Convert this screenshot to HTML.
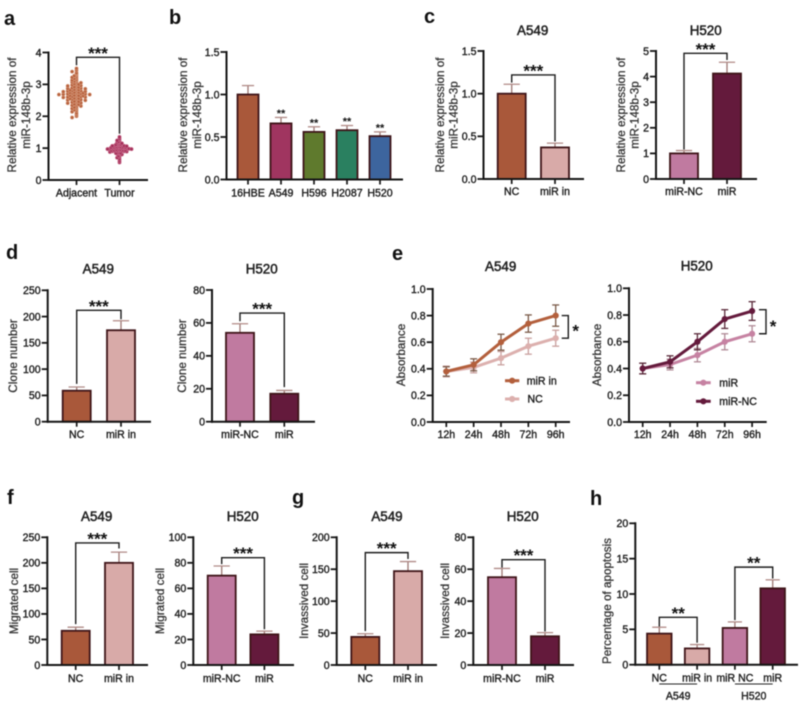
<!DOCTYPE html>
<html lang="en">
<head>
<meta charset="utf-8">
<title>miR-148b-3p figure</title>
<style>
  html, body { margin: 0; padding: 0; background: #fff; }
  #figure { display: block; width: 800px; height: 701px; filter: blur(0.4px); }
  text { font-family: "Liberation Sans", Arial, sans-serif; fill: #222; }
  .tick { font-size: 10.6px; stroke: #222; stroke-width: 0.38px; }
  .ytitle { font-size: 11.7px; fill: #333; stroke: #333; stroke-width: 0.28px; }
  .title { font-size: 13.4px; stroke: #222; stroke-width: 0.5px; }
  .letter { font-size: 20px; font-weight: bold; fill: #111; }
  .star { font-weight: bold; fill: #111; }
  .legend { font-size: 10.6px; stroke: #222; stroke-width: 0.38px; }
</style>
</head>
<body>
<svg id="figure" xmlns="http://www.w3.org/2000/svg" width="800" height="701" viewBox="0 0 800 701">
  <text class="letter" x="4" y="25">a</text>
  <text class="letter" x="169" y="24">b</text>
  <text class="letter" x="424" y="23">c</text>
  <text class="letter" x="6" y="259">d</text>
  <text class="letter" x="392" y="260">e</text>
  <text class="letter" x="7" y="504">f</text>
  <text class="letter" x="292" y="504">g</text>
  <text class="letter" x="590" y="505">h</text>
</svg>
<script>
// ---------- Panel a ----------
const aCategories = ['Adjacent', 'Tumor'];
const aTicks = ['0', '1', '2', '3', '4'];
const aAdjacent = [3.50,3.44,3.40,3.36,3.33,3.30,3.27,3.25,3.22,3.20,3.18,3.15,3.13,3.12,3.10,3.08,3.07,3.05,3.03,3.02,3.00,2.99,2.98,2.96,2.95,2.94,2.92,2.91,2.90,2.89,2.88,2.87,2.86,2.85,2.84,2.83,2.82,2.81,2.80,2.80,2.79,2.78,2.77,2.76,2.75,2.75,2.74,2.73,2.72,2.72,2.71,2.70,2.70,2.69,2.68,2.68,2.67,2.66,2.65,2.65,2.64,2.63,2.62,2.61,2.60,2.60,2.59,2.58,2.57,2.56,2.55,2.54,2.53,2.52,2.51,2.50,2.49,2.47,2.46,2.45,2.44,2.42,2.41,2.40,2.38,2.37,2.35,2.34,2.32,2.30,2.28,2.26,2.24,2.22,2.20,2.17,2.14,2.10,2.05,2.00,1.96];
const aTumor = [1.35,1.30,1.27,1.24,1.22,1.20,1.18,1.17,1.15,1.14,1.13,1.12,1.11,1.10,1.10,1.09,1.08,1.07,1.07,1.06,1.05,1.05,1.04,1.04,1.03,1.03,1.02,1.02,1.01,1.01,1.00,1.00,1.00,0.99,0.99,0.98,0.98,0.97,0.97,0.96,0.96,0.95,0.95,0.94,0.94,0.93,0.93,0.92,0.92,0.91,0.91,0.90,0.90,0.89,0.88,0.87,0.86,0.85,0.84,0.83,0.82,0.80,0.78,0.76,0.73,0.70,0.66,0.60,0.55];
const aBracket = [3.85, 3.6, 1.45];

// ---------- Panel b ----------
const bCategories = ['16HBE', 'A549', 'H596', 'H2087', 'H520'];
const bTicks = ['0.0', '0.5', '1.0', '1.5'];
const bValues = [1.0, 0.66, 0.56, 0.58, 0.51];
const bErrors = [0.105, 0.07, 0.06, 0.055, 0.05];
const bStars = ['', '**', '**', '**', '**'];

// ---------- Panel c ----------
const cACategories = ['NC', 'miR in'];
const cATicks = ['0.0', '0.5', '1.0', '1.5'];
const cAValues = [1.0, 0.37];
const cAErrors = [0.11, 0.05];
const cABracket = [1.22, 1.13, 0.44];
const cHCategories = ['miR-NC', 'miR'];
const cHTicks = ['0', '1', '2', '3', '4', '5'];
const cHValues = [1.0, 4.12];
const cHErrors = [0.11, 0.44];
const cHBracket = [4.91, 1.15, 4.65];

// ---------- Panel d ----------
const dACategories = ['NC', 'miR in'];
const dATicks = ['0', '50', '100', '150', '200', '250'];
const dAValues = [59, 174];
const dAErrors = [7, 18];
const dABracket = [212, 72, 195];
const dHCategories = ['miR-NC', 'miR'];
const dHTicks = ['0', '20', '40', '60', '80'];
const dHValues = [54, 17];
const dHErrors = [5.5, 2];
const dHBracket = [66, 61, 21];

// ---------- Panel e ----------
const eTimepoints = ['12h', '24h', '48h', '72h', '96h'];
const eTicks = ['0.0', '0.2', '0.4', '0.6', '0.8', '1.0'];
const eAMirIn = [0.38, 0.43, 0.60, 0.74, 0.80];
const eAMirInErrors = [0.035, 0.045, 0.06, 0.065, 0.08];
const eANC = [0.38, 0.41, 0.48, 0.57, 0.63];
const eANCErrors = [0.04, 0.04, 0.05, 0.06, 0.06];
const eASignificance = [0.80, 0.63];
const eHMirNC = [0.40, 0.45, 0.60, 0.77, 0.83];
const eHMirNCErrors = [0.04, 0.045, 0.06, 0.07, 0.07];
const eHMir = [0.40, 0.43, 0.50, 0.60, 0.66];
const eHMirErrors = [0.04, 0.04, 0.05, 0.06, 0.06];
const eHSignificance = [0.84, 0.66];

// ---------- Panel f ----------
const fACategories = ['NC', 'miR in'];
const fATicks = ['0', '50', '100', '150', '200', '250'];
const fAValues = [67, 200];
const fAErrors = [7, 21];
const fABracket = [239, 80, 228];
const fHCategories = ['miR-NC', 'miR'];
const fHTicks = ['0', '20', '40', '60', '80', '100'];
const fHValues = [70, 24];
const fHErrors = [7.5, 2.5];
const fHBracket = [84, 79, 28];

// ---------- Panel g ----------
const gACategories = ['NC', 'miR in'];
const gATicks = ['0', '50', '100', '150', '200'];
const gAValues = [44, 147];
const gAErrors = [5, 15];
const gABracket = [176, 53, 166];
const gHCategories = ['miR-NC', 'miR'];
const gHTicks = ['0', '20', '40', '60', '80'];
const gHValues = [55, 18];
const gHErrors = [5.5, 2.3];
const gHBracket = [66, 61, 21];

// ---------- Panel h ----------
const hCategories = ['NC', 'miR in', 'miR NC', 'miR'];
const hTicks = ['0', '5', '10', '15', '20'];
const hValues = [4.4, 2.3, 5.2, 10.8];
const hErrors = [0.9, 0.55, 0.85, 1.2];
const hBracketA = [6.7, 5.4, 3.1];
const hBracketH = [13.8, 6.3, 12.2];
const hGroups = ['A549', 'H520'];

// ---------- Palette ----------
const BROWN = '#a9583a', LIGHT = '#d8aaa8', PINK = '#c07aa0', DARK = '#641a3c';
const AXIS = '#151515';
const NS = 'http://www.w3.org/2000/svg';
const figure = document.getElementById('figure');

function mk(tag, attrs, parent, txt) {
  const node = document.createElementNS(NS, tag);
  for (const k in attrs) node.setAttribute(k, attrs[k]);
  if (txt !== undefined) node.textContent = txt;
  parent.appendChild(node);
  return node;
}

function makePanel(name) {
  const g = mk('g', {}, figure);
  
  
  return g;
}

// Axis functions built from the tick labels and plot box
function yScale(p) {
  const top = Number(p.ticks[p.ticks.length - 1]);
  return v => p.yBot - (v / top) * (p.yBot - p.yTop);
}
function xScale(p) {
  return i => p.c0 + i * p.step;
}

function drawAxes(g, p) {
  const y = yScale(p), x = xScale(p);
  let el;
  el = mk('line', { x1: p.x0, x2: p.x0, y1: p.yTop - 1, y2: p.yBot + 1, stroke: AXIS, 'stroke-width': 2 }, g);
  
  
  el = mk('line', { x1: p.x0 - 1, x2: p.x1, y1: p.yBot, y2: p.yBot, stroke: AXIS, 'stroke-width': 2 }, g);
  
  
  p.ticks.forEach(t => {
    const ty = y(Number(t));
    el = mk('line', { x1: p.x0 - 6, x2: p.x0, y1: ty, y2: ty, stroke: AXIS, 'stroke-width': 1.8 }, g);
    
    
    el = mk('text', { class: 'tick', x: p.x0 - 7, y: ty + 3.8, 'text-anchor': 'end' }, g, t);
    
    
  });
  p.cats.forEach((c, i) => {
    el = mk('line', { x1: x(i), x2: x(i), y1: p.yBot, y2: p.yBot + 5, stroke: AXIS, 'stroke-width': 1.7 }, g);
    
    
    el = mk('text', { class: 'tick', x: x(i), y: p.labelY, 'text-anchor': 'middle' }, g, c);
    
    
  });
  if (p.title) {
    el = mk('text', { class: 'title', x: p.titleX, y: p.titleY, 'text-anchor': 'middle' }, g, p.title);
    
    
  }
  p.ylabel.forEach((line, i) => {
    const lx = p.ylabelX + i * p.ylabelGap;
    el = mk('text', { class: 'ytitle', x: 0, y: 0, 'text-anchor': 'middle', transform: 'translate(' + lx + ',' + p.ylabelY + ') rotate(-90)' }, g, line);
    
    
  });
}

function drawBars(g, p, values, errors, colors, width) {
  const y = yScale(p), x = xScale(p);
  let el;
  values.forEach((v, i) => {
    const tip = y(v + errors[i]);
    el = mk('line', { x1: x(i), x2: x(i), y1: y(v), y2: tip, stroke: '#9c7672', 'stroke-width': 1.3 }, g);
    
    
    el = mk('line', { x1: x(i) - width * 0.29, x2: x(i) + width * 0.29, y1: tip, y2: tip, stroke: '#b08a86', 'stroke-width': 1.3 }, g);
    
    
    el = mk('rect', { x: x(i) - width / 2, y: y(v), width: width, height: p.yBot - y(v), fill: colors[i], stroke: '#3e1418', 'stroke-width': 1.8 }, g);
    
    
  });
}

function drawBracket(g, p, i0, i1, bracket) {
  const y = yScale(p), x = xScale(p);
  const pts = [[x(i0), y(bracket[1])], [x(i0), y(bracket[0])], [x(i1), y(bracket[0])], [x(i1), y(bracket[2])]];
  let el;
  el = mk('polyline', { points: pts.map(q => q.join(',')).join(' '), fill: 'none', stroke: '#1c1c1c', 'stroke-width': 1.4 }, g);
  
  
  return { cx: (x(i0) + x(i1)) / 2, top: y(bracket[0]) };
}

function drawStars(g, cx, baseline, str, size) {
  const el = mk('text', { class: 'star', x: cx, y: baseline, 'text-anchor': 'middle', 'font-size': size }, g, str);
  
  
}

function barPanel(name, p, values, errors, colors, width, bracket) {
  const g = makePanel(name);
  drawBars(g, p, values, errors, colors, width);
  drawAxes(g, p);
  if (bracket) {
    const b = drawBracket(g, p, 0, 1, bracket);
    drawStars(g, b.cx, b.top + 1.5, '***', 17);
  }
  return g;
}

// Panel a: swarm from the value arrays, binned along the y axis with staggered rows
function drawSwarm(g, p, index, vals, fill, edge, spacing) {
  const y = yScale(p), x = xScale(p);
  const bins = {};
  vals.forEach(v => {
    const key = Math.round(v / 0.045);
    bins[key] = bins[key] || [];
    bins[key].push(v);
  });
  Object.keys(bins).forEach(key => {
    const stagger = Number(key) % 2 === 0 ? 0 : spacing / 2;
    bins[key].forEach((v, j) => {
      const side = j % 2 === 0 ? 1 : -1;
      const off = side * (Math.ceil(j / 2) * spacing + (j === 0 ? 0 : -stagger));
      const el = mk('circle', { cx: x(index) + off, cy: y(v), r: 1.8, fill: fill, stroke: edge, 'stroke-width': 0.4 }, g);
      
      
    });
  });
}

const panelA = { x0: 48.5, x1: 148, yTop: 52.5, yBot: 180, c0: 76.5, step: 43, ticks: aTicks, cats: aCategories, labelY: 196.5, ylabel: ['Relative expression of', 'miR-148b-3p'], ylabelX: 16, ylabelGap: 14, ylabelY: 115 };
const gA = makePanel('panel-a-swarm');
drawSwarm(gA, panelA, 0, aAdjacent, '#b8623e', '#e6b9a0', 4.4);
drawSwarm(gA, panelA, 1, aTumor, '#a5305a', '#d98aa5', 2.4);
drawAxes(gA, panelA);
const bA = drawBracket(gA, panelA, 0, 1, aBracket);
drawStars(gA, bA.cx, bA.top + 1.5, '***', 17);

// Panel b
const panelB = { x0: 226.5, x1: 403, yTop: 52, yBot: 179.5, c0: 248, step: 33, ticks: bTicks, cats: bCategories, labelY: 196.5, ylabel: ['Relative expression of', 'miR-148b-3p'], ylabelX: 187, ylabelGap: 14, ylabelY: 115 };
const gB = barPanel('panel-b-cell-lines', panelB, bValues, bErrors, [BROWN, '#a03560', '#5f7a2d', '#2a8060', '#3d659e'], 21, null);
bValues.forEach((v, i) => {
  if (bStars[i]) drawStars(gB, xScale(panelB)(i), yScale(panelB)(v + bErrors[i]) - 0.5, bStars[i], 11);
});

// Panel c
barPanel('panel-c-a549', { x0: 483.5, x1: 584, yTop: 51, yBot: 179, c0: 511.7, step: 43.3, ticks: cATicks, cats: cACategories, labelY: 195, title: 'A549', titleX: 532.7, titleY: 35, ylabel: ['Relative expression of', 'miR-148b-3p'], ylabelX: 444, ylabelGap: 13.5, ylabelY: 115 }, cAValues, cAErrors, [BROWN, LIGHT], 28, cABracket);
barPanel('panel-c-h520', { x0: 656, x1: 757, yTop: 51, yBot: 179, c0: 684, step: 43, ticks: cHTicks, cats: cHCategories, labelY: 195, title: 'H520', titleX: 705.7, titleY: 35, ylabel: ['Relative expression of', 'miR-148b-3p'], ylabelX: 625, ylabelGap: 13.5, ylabelY: 115 }, cHValues, cHErrors, [PINK, DARK], 28, cHBracket);

// Panel d
barPanel('panel-d-a549', { x0: 47.7, x1: 151, yTop: 290.3, yBot: 421.7, c0: 76.7, step: 44.3, ticks: dATicks, cats: dACategories, labelY: 438, title: 'A549', titleX: 98.3, titleY: 273.5, ylabel: ['Clone number'], ylabelX: 17, ylabelGap: 0, ylabelY: 356 }, dAValues, dAErrors, [BROWN, LIGHT], 28, dABracket);
barPanel('panel-d-h520', { x0: 212, x1: 315, yTop: 290, yBot: 421.7, c0: 240, step: 44.3, ticks: dHTicks, cats: dHCategories, labelY: 438, title: 'H520', titleX: 261.7, titleY: 273.5, ylabel: ['Clone number'], ylabelX: 186, ylabelGap: 0, ylabelY: 356 }, dHValues, dHErrors, [PINK, DARK], 28, dHBracket);

// Panel e
function drawSeries(g, p, values, errors, color, errColor) {
  const y = yScale(p), x = xScale(p);
  let el;
  values.forEach((v, i) => {
    el = mk('line', { x1: x(i), x2: x(i), y1: y(v - errors[i]), y2: y(v + errors[i]), stroke: errColor, 'stroke-width': 1.3 }, g);
    
    
    el = mk('line', { x1: x(i) - 3.5, x2: x(i) + 3.5, y1: y(v + errors[i]), y2: y(v + errors[i]), stroke: errColor, 'stroke-width': 1.3 }, g);
    
    
    el = mk('line', { x1: x(i) - 3.5, x2: x(i) + 3.5, y1: y(v - errors[i]), y2: y(v - errors[i]), stroke: errColor, 'stroke-width': 1.3 }, g);
    
    
  });
  el = mk('polyline', { points: values.map((v, i) => x(i) + ',' + y(v)).join(' '), fill: 'none', stroke: color, 'stroke-width': 3 }, g);
  
  
  values.forEach((v, i) => {
    el = mk('circle', { cx: x(i), cy: y(v), r: 3.1, fill: color }, g);
    
    
  });
}

function drawLegendEntry(g, x1, x2, ly, textX, color, label) {
  let el;
  el = mk('line', { x1: x1, x2: x2, y1: ly, y2: ly, stroke: color, 'stroke-width': 3 }, g);
  
  
  el = mk('circle', { cx: (x1 + x2) / 2, cy: ly, r: 3.1, fill: color }, g);
  
  
  el = mk('text', { class: 'legend', x: textX, y: ly + 3.7 }, g, label);
  
  
}

function drawSideBracket(g, p, sig, x1, x2, starX, starBaseline) {
  const y = yScale(p);
  const pts = [[x1, y(sig[0])], [x2, y(sig[0])], [x2, y(sig[1])], [x1, y(sig[1])]];
  const el = mk('polyline', { points: pts.map(q => q.join(',')).join(' '), fill: 'none', stroke: '#1c1c1c', 'stroke-width': 1.4 }, g);
  
  
  drawStars(g, starX, starBaseline, '*', 17);
}

const panelEA = { x0: 432.7, x1: 570, yTop: 289, yBot: 422, c0: 446.3, step: 27.35, ticks: eTicks, cats: eTimepoints, labelY: 438, title: 'A549', titleX: 500.7, titleY: 271, ylabel: ['Absorbance'], ylabelX: 405, ylabelGap: 0, ylabelY: 355 };
const gEA = makePanel('panel-e-a549');
drawSeries(gEA, panelEA, eANC, eANCErrors, '#dcb0ae', '#c9a09e');
drawSeries(gEA, panelEA, eAMirIn, eAMirInErrors, '#b35f3c', '#7a5a48');
drawAxes(gEA, panelEA);
drawSideBracket(gEA, panelEA, eASignificance, 561.7, 568.3, 575.7, 336.5);
drawLegendEntry(gEA, 505, 519.3, 380.7, 526.7, '#b35f3c', 'miR in');
drawLegendEntry(gEA, 505, 519.3, 399, 527.5, '#dcb0ae', 'NC');

const panelEH = { x0: 629, x1: 766.7, yTop: 288.3, yBot: 422, c0: 642.7, step: 27.35, ticks: eTicks, cats: eTimepoints, labelY: 438, title: 'H520', titleX: 696.7, titleY: 270.5, ylabel: ['Absorbance'], ylabelX: 601, ylabelGap: 0, ylabelY: 355 };
const gEH = makePanel('panel-e-h520');
drawSeries(gEH, panelEH, eHMir, eHMirErrors, '#c682a2', '#b08a96');
drawSeries(gEH, panelEH, eHMirNC, eHMirNCErrors, '#641a3c', '#5a2a3a');
drawAxes(gEH, panelEH);
drawSideBracket(gEH, panelEH, eHSignificance, 759, 766, 773, 332);
drawLegendEntry(gEH, 696, 710.7, 382.7, 719.3, '#c682a2', 'miR');
drawLegendEntry(gEH, 696, 710.7, 401.3, 719.3, '#641a3c', 'miR-NC');

// Panel f
barPanel('panel-f-a549', { x0: 47.3, x1: 148, yTop: 537.3, yBot: 665, c0: 75.7, step: 43.3, ticks: fATicks, cats: fACategories, labelY: 682, title: 'A549', titleX: 96.7, titleY: 521, ylabel: ['Migrated cell'], ylabelX: 18, ylabelGap: 0, ylabelY: 601 }, fAValues, fAErrors, [BROWN, LIGHT], 28, fABracket);
barPanel('panel-f-h520', { x0: 193.3, x1: 294, yTop: 537.3, yBot: 665, c0: 221.7, step: 42.7, ticks: fHTicks, cats: fHCategories, labelY: 682, title: 'H520', titleX: 242.7, titleY: 521, ylabel: ['Migrated cell'], ylabelX: 164, ylabelGap: 0, ylabelY: 601 }, fHValues, fHErrors, [PINK, DARK], 28, fHBracket);

// Panel g
barPanel('panel-g-a549', { x0: 336.7, x1: 437, yTop: 537.3, yBot: 665, c0: 365.3, step: 42.7, ticks: gATicks, cats: gACategories, labelY: 682, title: 'A549', titleX: 387, titleY: 521, ylabel: ['Invassived cell'], ylabelX: 308, ylabelGap: 0, ylabelY: 601 }, gAValues, gAErrors, [BROWN, LIGHT], 28, gABracket);
barPanel('panel-g-h520', { x0: 473.3, x1: 574, yTop: 537.3, yBot: 665, c0: 502, step: 43, ticks: gHTicks, cats: gHCategories, labelY: 682, title: 'H520', titleX: 522.7, titleY: 521, ylabel: ['Invassived cell'], ylabelX: 449, ylabelGap: 0, ylabelY: 601 }, gHValues, gHErrors, [PINK, DARK], 28, gHBracket);

// Panel h
const panelH = { x0: 635.3, x1: 798, yTop: 523.3, yBot: 664.7, c0: 659.3, step: 37.8, ticks: hTicks, cats: hCategories, labelY: 681.5, ylabel: ['Percentage of apoptosis'], ylabelX: 611, ylabelGap: 0, ylabelY: 601 };
const gH = barPanel('panel-h-apoptosis', panelH, hValues, hErrors, [BROWN, LIGHT, PINK, DARK], 24.5, null);
const hbA = drawBracket(gH, panelH, 0, 1, hBracketA);
drawStars(gH, hbA.cx, hbA.top + 1.5, '**', 17);
const hbH = drawBracket(gH, panelH, 2, 3, hBracketH);
drawStars(gH, hbH.cx, hbH.top + 1.5, '**', 17);
hGroups.forEach((label, i) => {
  const sx = xScale(panelH);
  const left = sx(i * 2), right = sx(i * 2 + 1);
  let el;
  el = mk('line', { x1: left, x2: right, y1: 684, y2: 684, stroke: '#222', 'stroke-width': 1 }, gH);
  
  
  el = mk('text', { class: 'tick', x: (left + right) / 2, y: 699.5, 'text-anchor': 'middle' }, gH, label);
  
  
});
</script>
</body>
</html>
